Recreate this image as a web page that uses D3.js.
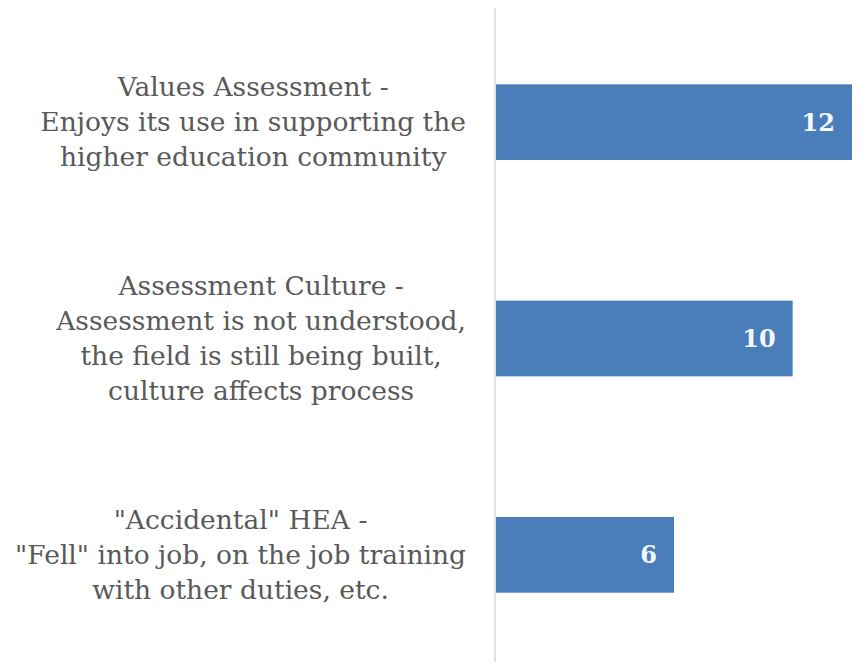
<!DOCTYPE html>
<html>
<head>
<meta charset="utf-8">
<script src="https://cdn.jsdelivr.net/npm/d3@7"></script>
<style>
  html, body { margin: 0; padding: 0; background: #ffffff; }
  svg { display: block; }
</style>
</head>
<body>
<svg id="chart" width="861" height="662"></svg>
<script>
// Category labels (each line of a wrapped label is one entry)
const categories = [
  ["Values Assessment -", "Enjoys its use in supporting the", "higher education community"],
  ["Assessment Culture -", "Assessment is not understood,", "the field is still being built,", "culture affects process"],
  ["\"Accidental\" HEA -", "\"Fell\" into job, on the job training", "with other duties, etc."]
];
const values = [12, 10, 6];
const keys = ["values", "culture", "accidental"];

const svg = d3.select("#chart");
const W = 861, H = 662;

const x = d3.scaleLinear().domain([0, 12]).range([496, 852]);
const y = d3.scaleBand().domain(keys).range([14, 663]).paddingInner(0.65).paddingOuter(0.325);

const labelFont = "'DejaVu Serif', 'Liberation Serif', serif";

// Vertical category axis: domain line only, labels drawn as wrapped text
const axis = d3.axisLeft(y).tickSize(0).tickFormat("");
const axisG = svg.append("g")
  .attr("transform", `translate(${x(0) - 1},0)`)
  .call(axis);
axisG.select(".domain").attr("stroke", "#d9d9d9").attr("stroke-width", 1.5)
  .attr("d", `M0,8V${H}`);

// Bars
svg.append("g").selectAll("rect")
  .data(keys)
  .join("rect")
  .attr("x", x(0))
  .attr("y", d => y(d))
  .attr("width", (d, i) => x(values[i]) - x(0))
  .attr("height", y.bandwidth())
  .attr("fill", "#4a7ebb");

// Value labels inside the bar ends
svg.append("g").selectAll("text")
  .data(keys)
  .join("text")
  .attr("x", (d, i) => x(values[i]) - 17)
  .attr("y", d => y(d) + y.bandwidth() / 2)
  .attr("dy", "0.36em")
  .attr("text-anchor", "end")
  .attr("font-family", labelFont)
  .attr("font-weight", "bold")
  .attr("font-size", 24)
  .attr("fill", "#f4f8fc")
  .text((d, i) => values[i]);

// Wrapped category labels: each block sits flush against the gap before the
// axis, with its lines centred within the block's own width
const lineH = 35;
const blockRight = 466;
const labelG = svg.append("g");
keys.forEach((k, i) => {
  const lines = categories[i];
  const cy = y(k) + y.bandwidth() / 2;
  const t = labelG.append("text")
    .attr("text-anchor", "middle")
    .attr("font-family", labelFont)
    .attr("font-size", 26.5)
    .attr("fill", "#595959");
  const spans = lines.map((ln, j) => t.append("tspan")
    .attr("y", cy + (j - (lines.length - 1) / 2) * lineH)
    .attr("dy", "0.35em")
    .text(ln));
  const widest = d3.max(spans, s => s.node().getComputedTextLength());
  spans.forEach(s => s.attr("x", blockRight - widest / 2));
});
</script>
</body>
</html>
